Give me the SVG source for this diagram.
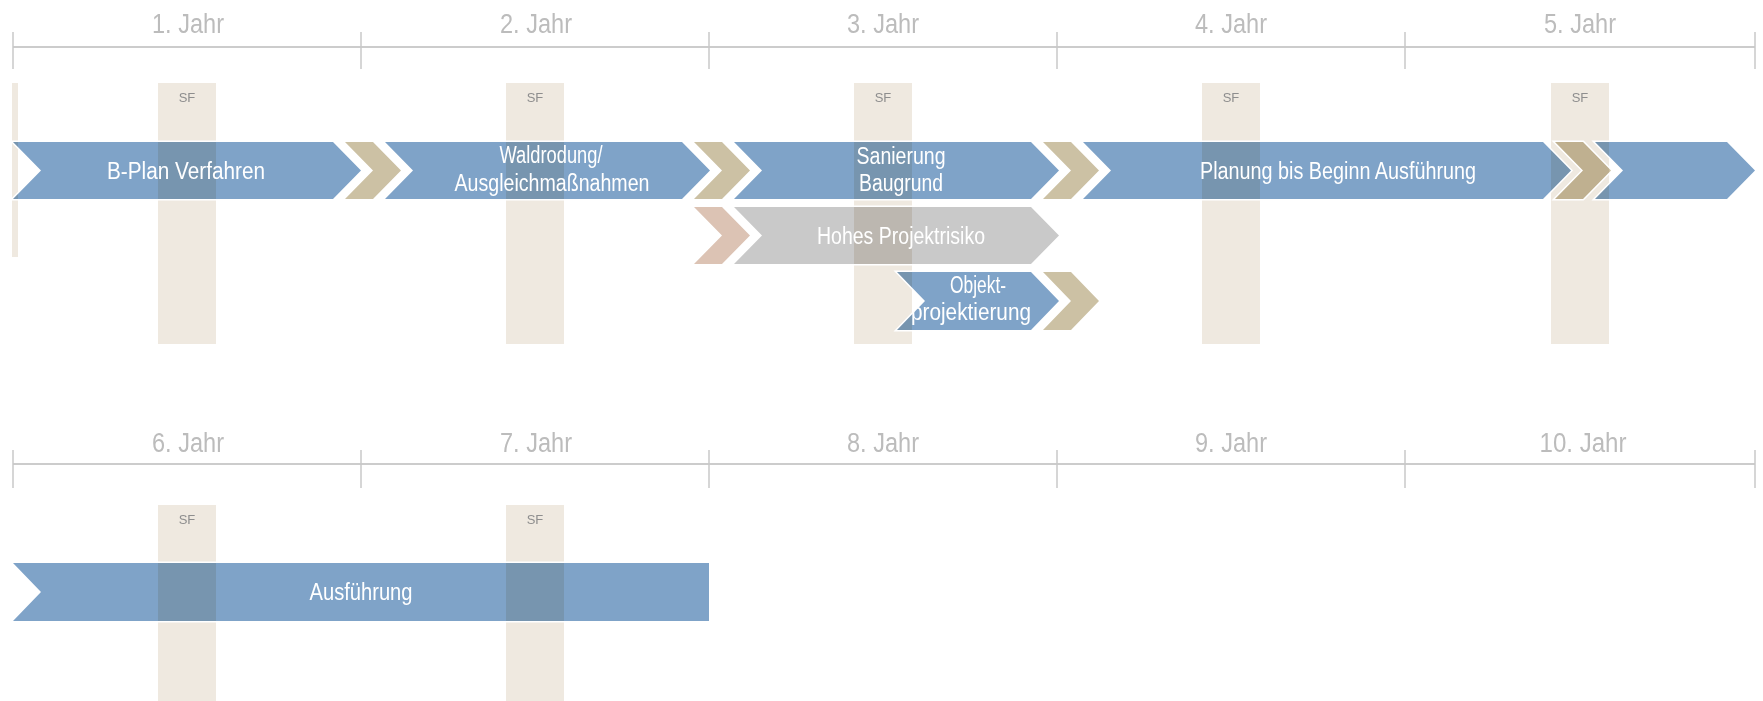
<svg xmlns="http://www.w3.org/2000/svg" xmlns:xlink="http://www.w3.org/1999/xlink" width="1763" height="701" viewBox="0 0 1763 701">
<style>
  .axis{stroke:#cccccc;stroke-width:2;fill:none}
  .tick{stroke:#c8c8c8;stroke-width:1.5}
  .year{font-family:"Liberation Sans",Arial,sans-serif;font-size:27px;fill:#bcbcbc;text-anchor:middle}
  .sf{fill:#efe9e0}
  .sft{font-family:"Liberation Sans",Arial,sans-serif;font-size:13px;fill:#8e8e8e;text-anchor:middle}
  .blue{fill:#7fa3c8;mix-blend-mode:multiply}
  .beige{fill:#ccc1a4;mix-blend-mode:multiply}
  .pink{fill:#dcc3b4;mix-blend-mode:multiply}
  .grey{fill:#c9c9c9;mix-blend-mode:multiply}
  .halo{fill:none;stroke:#ffffff;stroke-width:3;stroke-linejoin:miter}
  .lbl{font-family:"Liberation Sans",Arial,sans-serif;font-size:23px;fill:#ffffff;text-anchor:middle}
</style>
<defs>
  <polygon id="s-bplan" points="13,142 333,142 361,170.5 333,199 13,199 41,170.5"/>
  <polygon id="s-c1" points="345,142 373,142 401,170.5 373,199 345,199 373,170.5"/>
  <polygon id="s-wald" points="385,142 682,142 710,170.5 682,199 385,199 413,170.5"/>
  <polygon id="s-c2" points="694,142 722,142 750,170.5 722,199 694,199 722,170.5"/>
  <polygon id="s-san" points="734,142 1031,142 1059,170.5 1031,199 734,199 762,170.5"/>
  <polygon id="s-c3" points="1043,142 1071,142 1099,170.5 1071,199 1043,199 1071,170.5"/>
  <polygon id="s-plan" points="1083,142 1543,142 1571,170.5 1543,199 1083,199 1111,170.5"/>
  <polygon id="s-c4" points="1555,142 1583,142 1611,170.5 1583,199 1555,199 1583,170.5"/>
  <polygon id="s-end" points="1595,142 1727,142 1755,170.5 1727,199 1595,199 1623,170.5"/>
  <polygon id="s-c5" points="694,207 722,207 750,235.5 722,264 694,264 722,235.5"/>
  <polygon id="s-risk" points="734,207 1031,207 1059,235.5 1031,264 734,264 762,235.5"/>
  <polygon id="s-obj" points="897,272 1031,272 1059,301 1031,330 897,330 925,301"/>
  <polygon id="s-c6" points="1043,272 1071,272 1099,301 1071,330 1043,330 1071,301"/>
  <polygon id="s-aus" points="13,563 709,563 709,621 13,621 41,592"/>
  <mask id="outside" maskUnits="userSpaceOnUse" x="0" y="0" width="1763" height="701">
    <rect x="0" y="0" width="1763" height="701" fill="#ffffff"/>
    <g fill="#000000">
      <use xlink:href="#s-bplan"/><use xlink:href="#s-c1"/><use xlink:href="#s-wald"/><use xlink:href="#s-c2"/>
      <use xlink:href="#s-san"/><use xlink:href="#s-c3"/><use xlink:href="#s-plan"/><use xlink:href="#s-c4"/>
      <use xlink:href="#s-end"/><use xlink:href="#s-c5"/><use xlink:href="#s-risk"/><use xlink:href="#s-obj"/>
      <use xlink:href="#s-c6"/><use xlink:href="#s-aus"/>
    </g>
  </mask>
</defs>
<rect x="0" y="0" width="1763" height="701" fill="#ffffff"/>

<g id="timeline-top">
  <line class="axis" x1="13" y1="47" x2="1755" y2="47"/>
  <line class="tick" x1="13" y1="32" x2="13" y2="69"/>
  <line class="tick" x1="361" y1="32" x2="361" y2="69"/>
  <line class="tick" x1="709" y1="32" x2="709" y2="69"/>
  <line class="tick" x1="1057" y1="32" x2="1057" y2="69"/>
  <line class="tick" x1="1405" y1="32" x2="1405" y2="69"/>
  <line class="tick" x1="1755" y1="32" x2="1755" y2="69"/>
  <text class="year" x="188" y="33" textLength="72" lengthAdjust="spacingAndGlyphs">1. Jahr</text>
  <text class="year" x="536" y="33" textLength="72" lengthAdjust="spacingAndGlyphs">2. Jahr</text>
  <text class="year" x="883" y="33" textLength="72" lengthAdjust="spacingAndGlyphs">3. Jahr</text>
  <text class="year" x="1231" y="33" textLength="72" lengthAdjust="spacingAndGlyphs">4. Jahr</text>
  <text class="year" x="1580" y="33" textLength="72" lengthAdjust="spacingAndGlyphs">5. Jahr</text>
</g>
<g id="timeline-bottom">
  <line class="axis" x1="13" y1="464" x2="1755" y2="464"/>
  <line class="tick" x1="13" y1="450" x2="13" y2="488"/>
  <line class="tick" x1="361" y1="450" x2="361" y2="488"/>
  <line class="tick" x1="709" y1="450" x2="709" y2="488"/>
  <line class="tick" x1="1057" y1="450" x2="1057" y2="488"/>
  <line class="tick" x1="1405" y1="450" x2="1405" y2="488"/>
  <line class="tick" x1="1755" y1="450" x2="1755" y2="488"/>
  <text class="year" x="188" y="452" textLength="72" lengthAdjust="spacingAndGlyphs">6. Jahr</text>
  <text class="year" x="536" y="452" textLength="72" lengthAdjust="spacingAndGlyphs">7. Jahr</text>
  <text class="year" x="883" y="452" textLength="72" lengthAdjust="spacingAndGlyphs">8. Jahr</text>
  <text class="year" x="1231" y="452" textLength="72" lengthAdjust="spacingAndGlyphs">9. Jahr</text>
  <text class="year" x="1583" y="452" textLength="87" lengthAdjust="spacingAndGlyphs">10. Jahr</text>
</g>

<g id="sf-bars">
  <rect class="sf" x="12" y="83" width="6" height="174"/>
  <rect class="sf" x="158" y="83" width="58" height="261"/>
  <rect class="sf" x="506" y="83" width="58" height="261"/>
  <rect class="sf" x="854" y="83" width="58" height="261"/>
  <rect class="sf" x="1202" y="83" width="58" height="261"/>
  <rect class="sf" x="1551" y="83" width="58" height="261"/>
  <rect class="sf" x="158" y="505" width="58" height="196"/>
  <rect class="sf" x="506" y="505" width="58" height="196"/>
  <text class="sft" x="187" y="102">SF</text>
  <text class="sft" x="535" y="102">SF</text>
  <text class="sft" x="883" y="102">SF</text>
  <text class="sft" x="1231" y="102">SF</text>
  <text class="sft" x="1580" y="102">SF</text>
  <text class="sft" x="187" y="524">SF</text>
  <text class="sft" x="535" y="524">SF</text>
</g>

<g id="halos" mask="url(#outside)">
  <use class="halo" xlink:href="#s-bplan"/><use class="halo" xlink:href="#s-c1"/><use class="halo" xlink:href="#s-wald"/><use class="halo" xlink:href="#s-c2"/>
  <use class="halo" xlink:href="#s-san"/><use class="halo" xlink:href="#s-c3"/><use class="halo" xlink:href="#s-plan"/><use class="halo" xlink:href="#s-c4"/>
  <use class="halo" xlink:href="#s-end"/><use class="halo" xlink:href="#s-c5"/><use class="halo" xlink:href="#s-risk"/><use class="halo" xlink:href="#s-obj"/>
  <use class="halo" xlink:href="#s-c6"/><use class="halo" xlink:href="#s-aus"/>
</g>

<g id="connectors">
  <use class="beige" xlink:href="#s-c1"/>
  <use class="beige" xlink:href="#s-c2"/>
  <use class="beige" xlink:href="#s-c3"/>
  <use class="beige" xlink:href="#s-c4"/>
  <use class="pink" xlink:href="#s-c5"/>
  <use class="beige" xlink:href="#s-c6"/>
</g>

<g id="node-bplan">
  <use class="blue" xlink:href="#s-bplan"/>
  <text class="lbl" x="186" y="179" textLength="158" lengthAdjust="spacingAndGlyphs">B-Plan Verfahren</text>
</g>
<g id="node-waldrodung">
  <use class="blue" xlink:href="#s-wald"/>
  <text class="lbl" x="551" y="163" textLength="103" lengthAdjust="spacingAndGlyphs">Waldrodung/</text>
  <text class="lbl" x="552" y="191" textLength="195" lengthAdjust="spacingAndGlyphs">Ausgleichmaßnahmen</text>
</g>
<g id="node-sanierung">
  <use class="blue" xlink:href="#s-san"/>
  <text class="lbl" x="901" y="164" textLength="89" lengthAdjust="spacingAndGlyphs">Sanierung</text>
  <text class="lbl" x="901" y="191" textLength="84" lengthAdjust="spacingAndGlyphs">Baugrund</text>
</g>
<g id="node-planung">
  <use class="blue" xlink:href="#s-plan"/>
  <text class="lbl" x="1338" y="179" textLength="276" lengthAdjust="spacingAndGlyphs">Planung bis Beginn Ausführung</text>
</g>
<g id="node-end">
  <use class="blue" xlink:href="#s-end"/>
</g>
<g id="node-risiko">
  <use class="grey" xlink:href="#s-risk"/>
  <text class="lbl" x="901" y="244" textLength="168" lengthAdjust="spacingAndGlyphs">Hohes Projektrisiko</text>
</g>
<g id="node-objekt">
  <use class="blue" xlink:href="#s-obj"/>
  <text class="lbl" x="978" y="293" textLength="56" lengthAdjust="spacingAndGlyphs">Objekt-</text>
  <text class="lbl" x="971" y="320" textLength="120" lengthAdjust="spacingAndGlyphs">projektierung</text>
</g>
<g id="node-ausfuehrung">
  <use class="blue" xlink:href="#s-aus"/>
  <text class="lbl" x="361" y="600" textLength="103" lengthAdjust="spacingAndGlyphs">Ausführung</text>
</g>
</svg>
